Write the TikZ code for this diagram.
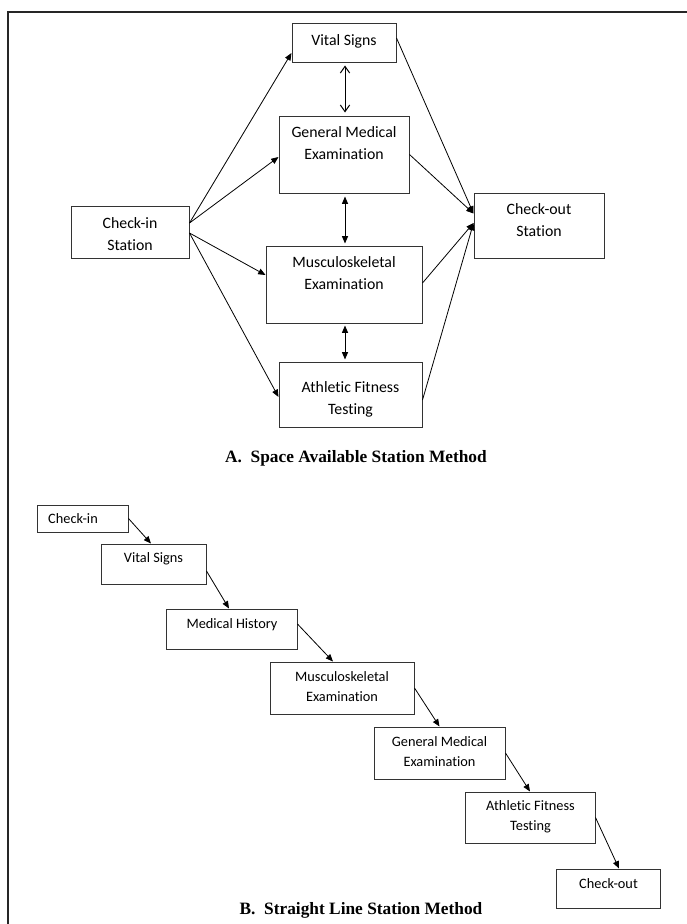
\documentclass[tikz,border=0pt]{standalone}
\usepackage{fontspec}
\setmainfont{Carlito}[Ligatures=NoCommon]
\newfontfamily\capfont{Liberation Serif}
\usetikzlibrary{arrows.meta,calc}
\begin{document}
\begin{tikzpicture}[x=0.75pt,y=-0.75pt,
  stbox/.style={draw=black!80, line width=0.75pt, inner sep=0pt},
  sz/.style 2 args={minimum width=#1*0.75pt, minimum height=#2*0.75pt},
  txtA/.style={font=\fontsize{11.85}{16.5}\selectfont, align=center, inner sep=0pt},
  txtB/.style={font=\fontsize{10.75}{15}\selectfont, align=center, inner sep=0pt},
  capt/.style={font=\capfont\bfseries\fontsize{13}{15}\selectfont, inner sep=0pt, anchor=base},
  arr/.style={-{Triangle[length=5.5pt,width=4.5pt]}, line width=0.6pt},
  dblf/.style={{Triangle[length=5.5pt,width=4.5pt]}-{Triangle[length=5.5pt,width=4.5pt]}, line width=0.75pt},
  dblo/.style={{Straight Barb[length=5pt,width=7pt]}-{Straight Barb[length=5pt,width=7pt]}, line width=0.75pt},
  frame/.style={line width=2pt, draw=black!85}
]
\useasboundingbox (0,0) rectangle (686,924);
% frame
\coordinate (fBL) at (8,926);
\coordinate (fTL) at (8,12);
\coordinate (fTR) at (688,12);
\draw[frame] (fBL) -- (fTL) -- (fTR);

% ---------- A ----------
\node[stbox, sz={104}{39}] (aVS) at (344,43.5) {};
\node[stbox, sz={130}{77}] (aGM) at (344,154.5) {};
\node[stbox, sz={118}{52}] (aCI) at (130,232) {};
\node[stbox, sz={130}{65}] (aCO) at (539,225.5) {};
\node[stbox, sz={156}{77}] (aMS) at (344,284.5) {};
\node[stbox, sz={143}{65}] (aAF) at (350.5,394.5) {};

\node[txtA] (aVSt) at (344,41) {Vital Signs};
\node[txtA] (aGMt) at (344,143) {General Medical\\Examination};
\node[txtA] (aCIt) at (130,234) {Check-in\\Station};
\node[txtA] (aCOt) at (539,220.5) {Check-out\\Station};
\node[txtA] (aMSt) at (344,273) {Musculoskeletal\\Examination};
\node[txtA] (aAFt) at (350.5,399) {Athletic Fitness\\Testing};

% from check-in
\draw[arr] ($(aCI.east)+(0,-9)$) -- ($(aVS.west)+(0,9.5)$);
\draw[arr] ($(aCI.east)+(0,-9)$) -- ($(aGM.west)+(0,2.5)$);
\draw[arr] ($(aCI.east)+(0,1)$) -- ($(aMS.west)+(0,-9.5)$);
\draw[arr] ($(aCI.east)+(0,1)$) -- ($(aAF.west)+(0,2.5)$);
% to check-out
\draw[arr] ($(aVS.east)+(0,-5.5)$) -- ($(aCO.west)+(0,-12)$);
\draw[arr] ($(aGM.east)+(0,0)$) -- ($(aCO.west)+(0,-12)$);
\draw[arr] ($(aMS.east)+(0,-1.5)$) -- ($(aCO.west)+(0,-2.5)$);
\draw[arr] ($(aAF.east)+(0,5.5)$) -- ($(aCO.west)+(0,-2.5)$);
% double arrows
\draw[dblo] ($(aVS.south)+(1,2)$) -- ($(aGM.north)+(1,-3)$);
\draw[dblf] ($(aGM.south)+(1,3)$) -- ($(aMS.north)+(1,-2)$);
\draw[dblf] ($(aMS.south)+(1,2)$) -- ($(aAF.north -| aMS.south)+(1,-2)$);

\node[capt] (capA) at (356,462) {A.~~Space Available Station Method};

% ---------- B ----------
\node[stbox, sz={91}{27}] (bCI) at (82.5,518.5) {};
\node[stbox, sz={105}{40}] (bVS) at (153.5,564) {};
\node[stbox, sz={131}{40}] (bMH) at (231.5,629) {};
\node[stbox, sz={144}{52}] (bMS) at (342,688) {};
\node[stbox, sz={131}{52}] (bGM) at (439.5,753) {};
\node[stbox, sz={130}{51}] (bAF) at (530,817.5) {};
\node[stbox, sz={104}{39}] (bCO) at (608,888.5) {};

\node[txtB] (bCIt) at (73,519) {Check-in};
\node[txtB] (bVSt) at (153.5,559) {Vital Signs};
\node[txtB] (bMHt) at (232,625) {Medical History};
\node[txtB] (bMSt) at (342,687) {Musculoskeletal\\Examination};
\node[txtB] (bGMt) at (439.5,752) {General Medical\\Examination};
\node[txtB] (bAFt) at (530.5,817) {Athletic Fitness\\Testing};
\node[txtB] (bCOt) at (608.5,884) {Check-out};

\draw[arr] (bCI.east) -- ($(bVS.north)+(-2.5,0)$);
\draw[arr] ($(bVS.east)+(0,7)$) -- ($(bMH.north)+(-2.5,0)$);
\draw[arr] ($(bMH.east)+(0,-5)$) -- ($(bMS.north)+(-9,0)$);
\draw[arr] (bMS.east) -- (bGM.north);
\draw[arr] (bGM.east) -- (bAF.north);
\draw[arr] (bAF.east) -- ($(bCO.north)+(11,0)$);

\node[capt] (capB) at (361,914) {B.~~Straight Line Station Method};
\end{tikzpicture}
\end{document}
